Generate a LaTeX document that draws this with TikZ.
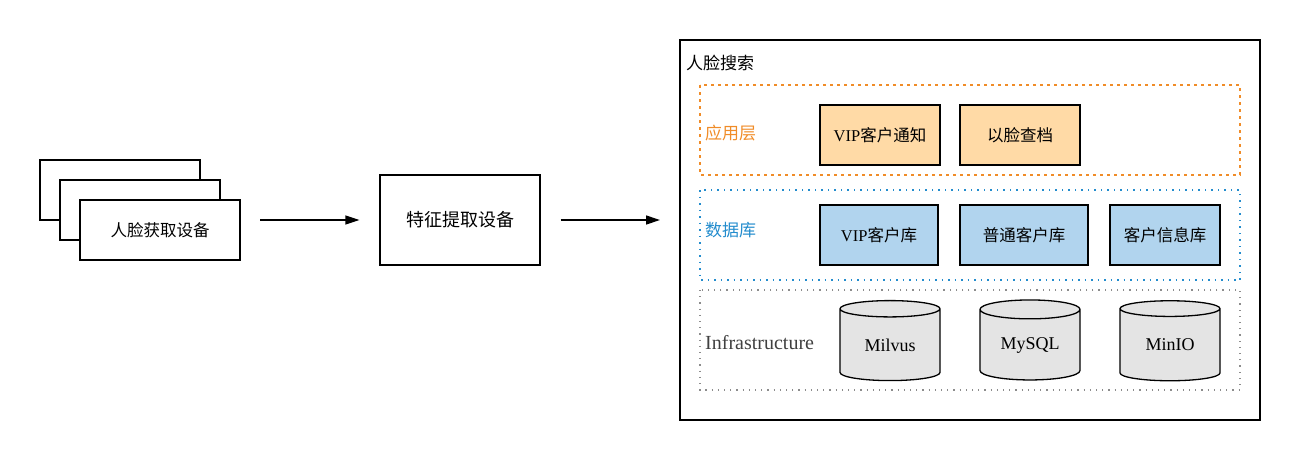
\documentclass[tikz,border=0pt]{standalone}
\usepackage{fontspec}
\setmainfont{Liberation Serif}
\newfontfamily\cjk{Noto Sans CJK SC}
\usetikzlibrary{arrows.meta,shapes.geometric}
\definecolor{layerorange}{RGB}{240,140,40}
\definecolor{layerblue}{RGB}{35,140,205}
\definecolor{layergray}{RGB}{140,140,140}
\definecolor{apporange}{RGB}{255,218,166}
\definecolor{dbblue}{RGB}{177,212,238}
\definecolor{infragray}{RGB}{228,228,228}

\begin{document}
\begin{tikzpicture}[x=1pt, y=-1pt,
box/.style={draw, line width=1.3pt, fill=white, inner sep=0pt, font=\cjk\fontsize{16.5}{18}\selectfont},
appbox/.style={box, fill=apporange, minimum width=120pt, minimum height=60pt},
dbbox/.style={box, fill=dbblue, minimum height=60pt},
store/.style={draw, line width=1.3pt, fill=infragray, cylinder, shape border rotate=90, aspect=0.32, minimum width=100pt, minimum height=80pt, inner sep=0pt, font=\fontsize{18}{20}\selectfont},
flow/.style={line width=1.3pt, -{Triangle[length=14pt,width=9pt]}},
layerlabel/.style={anchor=west, inner sep=0pt, font=\cjk\fontsize{17}{19}\selectfont},
]
\useasboundingbox (0,0) rectangle (1300,460);

\node[box, minimum width=160pt, minimum height=60pt] (cam3) at (120,190) {};
\node[box, minimum width=160pt, minimum height=60pt] (cam2) at (140,210) {};
\node[box, minimum width=160pt, minimum height=60pt] (cam1) at (160,230) {人脸获取设备};
\node[box, minimum width=160pt, minimum height=90pt, font=\cjk\fontsize{18}{20}\selectfont] (extract) at (460,220) {特征提取设备};
\coordinate (camout) at (260,220);

\draw[line width=1.5pt] (680,40) rectangle (1260,420);
\coordinate (search) at (660,220);
\node[layerlabel] (title) at (686,63) {人脸搜索};

\draw[layerorange, line width=1.5pt, dash pattern=on 3pt off 4pt] (700,85) rectangle (1240,175);
\draw[layerblue, line width=1.5pt, dash pattern=on 1.5pt off 5pt] (700,190) rectangle (1240,280);
\draw[layergray, line width=1.2pt, dash pattern=on 1.2pt off 5pt] (700,290) rectangle (1240,390);

\node[layerlabel, text=layerorange] (app) at (705,133) {应用层};
\node[layerlabel, text=layerblue] (db) at (705,230) {数据库};
\node[layerlabel, text=black!75, font=\fontsize{20}{22}\selectfont] (infra) at (705,343) {Infrastructure};

\node[appbox] (notify) at (880,135) {\rmfamily VIP\cjk 客户通知};
\node[appbox] (archive) at (1020,135) {以脸查档};

\node[dbbox, minimum width=118pt] (vipdb) at (879,235) {\rmfamily VIP\cjk 客户库};
\node[dbbox, minimum width=128pt] (normaldb) at (1024,235) {普通客户库};
\node[dbbox, minimum width=110pt] (infodb) at (1165,235) {客户信息库};

\node[store] (milvus) at (890,345) {Milvus};
\node[store] (mysql) at (1030,345) {MySQL};
\node[store] (minio) at (1170,345) {MinIO};

\draw[flow] (camout) -- ([xshift=-20pt]extract.west);
\draw[flow] ([xshift=20pt]extract.east) -- (search);

\end{tikzpicture}
\end{document}
